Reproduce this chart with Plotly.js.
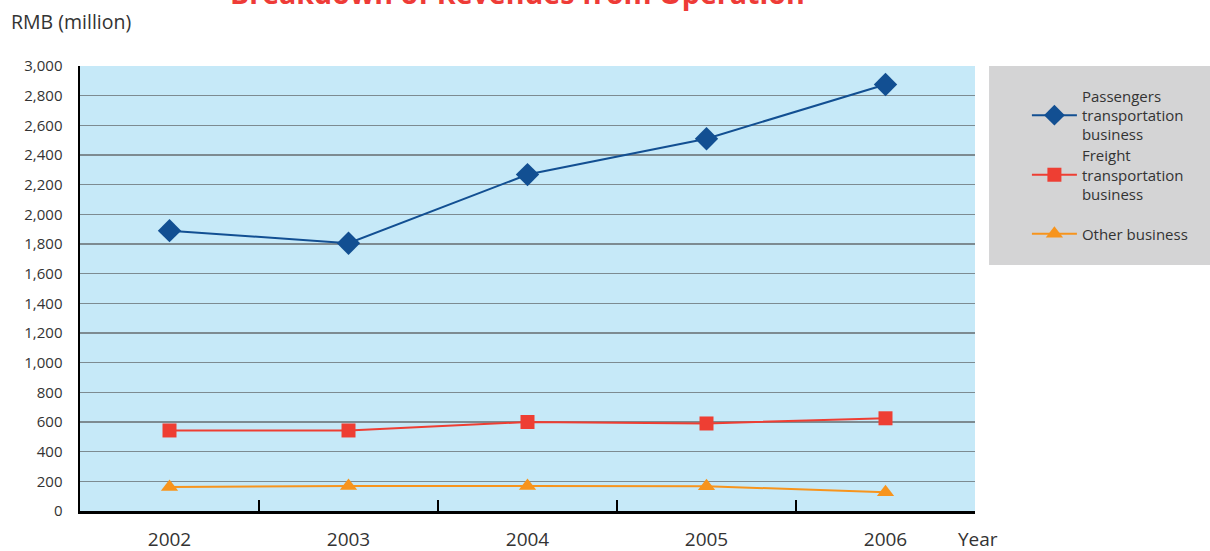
<!DOCTYPE html>
<html>
<head>
<meta charset="utf-8">
<script src="https://cdn.plot.ly/plotly-3.0.1.min.js"></script>
<style>html,body{margin:0;padding:0;background:#fff;}#chart{width:1210px;height:551px;}</style>
</head>
<body>
<div id="chart"></div>
<script>
var years = ['2002', '2003', '2004', '2005', '2006'];
var passengers = [1890, 1805, 2268, 2510, 2875];
var freight = [543, 543, 600, 590, 625];
var other = [162, 168, 168, 167, 126];
var yTickVals = [0, 200, 400, 600, 800, 1000, 1200, 1400, 1600, 1800, 2000, 2200, 2400, 2600, 2800, 3000];
var seriesNames = ['Passengers<br>transportation<br>business', 'Freight<br>transportation<br>business', 'Other business'];

var FONT = '"Open Sans", "Noto Sans", sans-serif';

var traces = [
  {x: years, y: passengers, name: seriesNames[0], type: 'scatter', mode: 'lines+markers', legend: 'legend',
   line: {color: '#124f92', width: 2}, marker: {symbol: 'diamond', size: 18, color: '#124f92'}},
  {x: years, y: freight, name: seriesNames[1], type: 'scatter', mode: 'lines+markers', legend: 'legend2',
   line: {color: '#ee3e33', width: 2}, marker: {symbol: 'square', size: 14, color: '#ee3e33'}},
  {x: years, y: other, name: seriesNames[2], type: 'scatter', mode: 'lines+markers', legend: 'legend3',
   line: {color: '#f7941d', width: 2}, marker: {symbol: 'triangle-up', size: 15, color: '#f7941d'}}
];

function legendAt(yc) {
  return {
    x: 1.058, xanchor: 'left', y: yc, yanchor: 'middle',
    bgcolor: 'rgba(0,0,0,0)', borderwidth: 0,
    font: {family: FONT, size: 15, color: '#333333'},
    valign: 'middle', itemwidth: 45
  };
}

var layout = {
  width: 1210, height: 551,
  margin: {l: 80, r: 235, t: 66, b: 40},
  paper_bgcolor: '#ffffff',
  plot_bgcolor: '#c6e9f8',
  font: {family: FONT, color: '#333333', size: 15},
  showlegend: true,
  legend: legendAt(0.889),
  legend2: legendAt(0.7551),
  legend3: legendAt(0.6225),
  xaxis: {
    type: 'category',
    tickson: 'boundaries',
    ticks: 'inside', ticklen: 11, tickwidth: 1.5, tickcolor: '#000',
    showline: true, linecolor: '#000', linewidth: 2.5, mirror: false,
    showgrid: false, zeroline: false,
    tickfont: {family: FONT, size: 19, color: '#333'},
    ticklabelstandoff: 10,
    range: [-0.5, 4.5]
  },
  yaxis: {
    range: [0, 3000],
    tickvals: yTickVals,
    tickformat: ',d',
    showline: true, linecolor: '#000', linewidth: 2.5,
    ticks: '',
    showgrid: true, gridcolor: '#7d8b91', gridwidth: 1.5,
    zeroline: false,
    tickfont: {family: FONT, size: 15, color: '#333'},
    ticklabelstandoff: 12
  },
  shapes: [
    {type: 'rect', xref: 'paper', yref: 'paper', x0: 1.0157, x1: 1.27, y0: 0.553, y1: 1.0,
     fillcolor: '#d4d4d5', line: {width: 0}, layer: 'below'}
  ],
  annotations: [
    {text: '<b>Breakdown of Revenues from Operation</b>', xref: 'paper', yref: 'paper',
     x: 0.489, y: 1.165, xanchor: 'center', yanchor: 'middle', showarrow: false,
     font: {family: FONT, size: 28.6, color: '#ee3b37'}},
    {text: 'RMB (million)', xref: 'paper', yref: 'paper', x: -0.079, y: 1.099,
     xanchor: 'left', yanchor: 'middle', showarrow: false,
     font: {family: FONT, size: 19.5, color: '#333'}},
    {text: 'Year', xref: 'paper', yref: 'paper', x: 0.979, y: -0.064,
     xanchor: 'left', yanchor: 'middle', showarrow: false,
     font: {family: FONT, size: 19, color: '#333'}}
  ]
};

Plotly.newPlot('chart', traces, layout, {displayModeBar: false, staticPlot: true});
</script>
</body>
</html>
